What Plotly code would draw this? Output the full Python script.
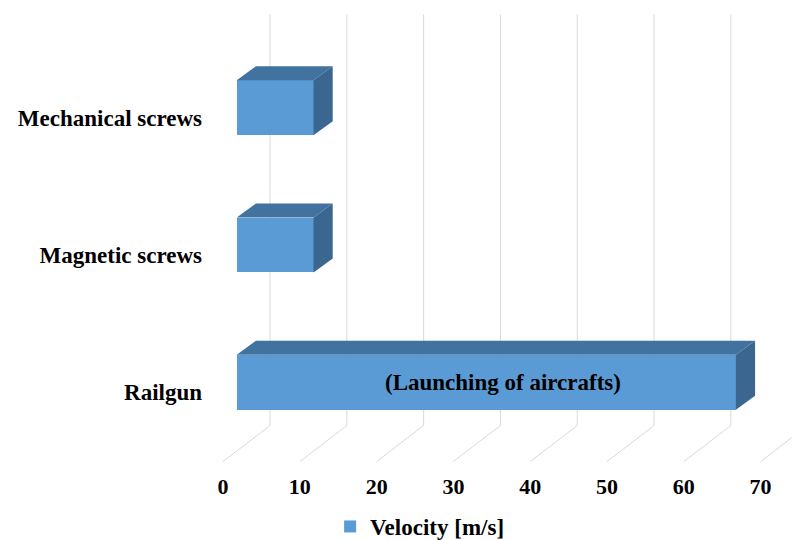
import plotly.graph_objects as go

# ---- data ----
categories = ["Railgun", "Magnetic screws", "Mechanical screws"]
velocity = [65, 10, 10]
x_ticks = [0, 10, 20, 30, 40, 50, 60, 70]
series_name = "Velocity [m/s]"
bar_note = "(Launching of aircrafts)"

# ---- styling / 3D projection offsets (in axis units) ----
FRONT = "#5B9BD5"
TOP = "#42729F"
SIDE = "#3A6690"
GRID = "#D9D9D9"
FONT = "Liberation Serif"
BAR_W = 0.4
DEPTH_X, DEPTH_Y = 2.5, 0.102         # bar back-plane offset
WALL_X, WALL_Y = 4.34, -0.316         # back wall / floor back edge
FLOOR_X, FLOOR_Y = -1.78, -0.578      # floor front edge
GRID_TOP = 2.68
LABEL_DY = -0.073

ypos = list(range(len(categories)))

fig = go.Figure()

# front faces
fig.add_trace(go.Bar(
    x=velocity, y=ypos, orientation="h", width=BAR_W,
    marker=dict(color=FRONT, line=dict(width=0)),
    name=series_name, showlegend=True, hoverinfo="skip",
))

# top and side faces
for v, c in zip(velocity, ypos):
    yt, yb = c + BAR_W / 2, c - BAR_W / 2
    fig.add_trace(go.Scatter(
        x=[0, v, v + DEPTH_X, DEPTH_X, 0],
        y=[yt, yt, yt + DEPTH_Y, yt + DEPTH_Y, yt],
        fill="toself", fillcolor=TOP, mode="lines", line=dict(width=0, color=TOP),
        showlegend=False, hoverinfo="skip",
    ))
    fig.add_trace(go.Scatter(
        x=[v, v + DEPTH_X, v + DEPTH_X, v, v],
        y=[yb, yb + DEPTH_Y, yt + DEPTH_Y, yt, yb],
        fill="toself", fillcolor=SIDE, mode="lines", line=dict(width=0, color=SIDE),
        showlegend=False, hoverinfo="skip",
    ))

# gridlines (back wall + floor) drawn below the bars
shapes = []
for t in x_ticks:
    shapes.append(dict(type="line", xref="x", yref="y", layer="below",
                       x0=t + WALL_X, y0=WALL_Y, x1=t + WALL_X, y1=GRID_TOP,
                       line=dict(color=GRID, width=1)))
    shapes.append(dict(type="line", xref="x", yref="y", layer="below",
                       x0=t + FLOOR_X, y0=FLOOR_Y, x1=t + WALL_X, y1=WALL_Y,
                       line=dict(color=GRID, width=1)))

# note on the railgun bar
annotations = [dict(
    x=velocity[0] * 0.534, y=ypos[0], xref="x", yref="y", text=bar_note,
    showarrow=False, font=dict(family=FONT, size=23, color="black", weight="bold"),
)]

fig.update_layout(
    width=800, height=540,
    margin=dict(l=192, r=0, t=0, b=78),
    paper_bgcolor="white", plot_bgcolor="white",
    shapes=shapes, annotations=annotations,
    bargap=0,
    xaxis=dict(
        range=[-4.78, 74.39], showgrid=False, zeroline=False, showline=False,
        tickmode="array", tickvals=[t + FLOOR_X for t in x_ticks],
        ticktext=[str(t) for t in x_ticks], ticks="", ticklabelstandoff=2,
        tickfont=dict(family=FONT, size=22, color="black", weight="bold"),
        automargin=False, fixedrange=True,
    ),
    yaxis=dict(
        range=[-0.6326, 2.7274], showgrid=False, zeroline=False, showline=False,
        tickmode="array", tickvals=[c + LABEL_DY for c in ypos], ticktext=categories,
        ticks="", ticklabelstandoff=-3,
        tickfont=dict(family=FONT, size=23, color="black", weight="bold"),
        automargin=False, fixedrange=True,
    ),
    legend=dict(
        orientation="h", x=0.214, xanchor="left", y=-0.1255, yanchor="middle",
        font=dict(family=FONT, size=23, color="black", weight="bold"),
        bgcolor="rgba(0,0,0,0)",
    ),
)

fig.write_html("out.html")
